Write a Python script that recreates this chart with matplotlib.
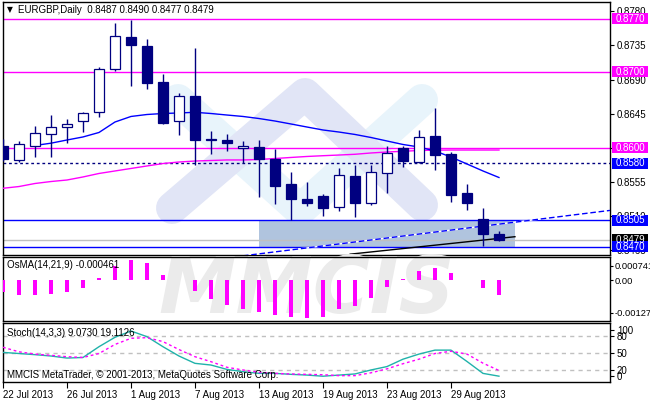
import matplotlib
matplotlib.use("Agg")
import matplotlib.pyplot as plt
import matplotlib.transforms as mtransforms
from matplotlib.patches import Rectangle
import numpy as np

plt.rcParams['font.family'] = ['Liberation Sans', 'DejaVu Sans']

# ---- data ----
dates = ["22 Jul 2013", "23 Jul 2013", "24 Jul 2013", "25 Jul 2013", "26 Jul 2013",
         "29 Jul 2013", "30 Jul 2013", "31 Jul 2013", "1 Aug 2013", "2 Aug 2013",
         "5 Aug 2013", "6 Aug 2013", "7 Aug 2013", "8 Aug 2013", "9 Aug 2013",
         "12 Aug 2013", "13 Aug 2013", "14 Aug 2013", "15 Aug 2013", "16 Aug 2013",
         "19 Aug 2013", "20 Aug 2013", "21 Aug 2013", "22 Aug 2013", "23 Aug 2013",
         "26 Aug 2013", "27 Aug 2013", "28 Aug 2013", "29 Aug 2013", "30 Aug 2013",
         "2 Sep 2013", "3 Sep 2013"]
opens = [0.8602, 0.8584, 0.8603, 0.8618, 0.8627, 0.8636, 0.8647, 0.8704, 0.8746, 0.8734,
         0.8687, 0.8635, 0.8668, 0.8612, 0.8610, 0.8600, 0.8601, 0.8585, 0.8552, 0.8533,
         0.8537, 0.8522, 0.8563, 0.8527, 0.8567, 0.8600, 0.8582, 0.8616, 0.8592, 0.8541,
         0.8506, 0.8487]
highs = [0.8612, 0.8609, 0.8629, 0.8643, 0.8638, 0.8647, 0.8706, 0.8765, 0.8769, 0.8744,
         0.8697, 0.8672, 0.8731, 0.8622, 0.8618, 0.8609, 0.8610, 0.8599, 0.8568, 0.8555,
         0.8539, 0.8574, 0.8577, 0.8577, 0.8603, 0.8602, 0.8624, 0.8653, 0.8594, 0.8552,
         0.8521, 0.8490]
lows = [0.8583, 0.8581, 0.8588, 0.8588, 0.8606, 0.8621, 0.8641, 0.8701, 0.8681, 0.8677,
        0.8631, 0.8617, 0.8578, 0.8592, 0.8596, 0.8580, 0.8535, 0.8526, 0.8505, 0.8523,
        0.8510, 0.8517, 0.8509, 0.8525, 0.8541, 0.8575, 0.8580, 0.8571, 0.8529, 0.8518,
        0.8471, 0.8477]
closes = [0.8585, 0.8605, 0.8619, 0.8628, 0.8631, 0.8646, 0.8704, 0.8747, 0.8735, 0.8685,
          0.8633, 0.8668, 0.8610, 0.8610, 0.8606, 0.8602, 0.8585, 0.8550, 0.8533, 0.8527,
          0.8521, 0.8564, 0.8528, 0.8568, 0.8593, 0.8583, 0.8614, 0.8590, 0.8538, 0.8527,
          0.8487, 0.8479]
ma_fast = [np.nan, np.nan, 0.86032, 0.86062, 0.86104, 0.86144, 0.86203, 0.86341, 0.86414,
           0.86440, 0.86453, 0.86460, 0.86469, 0.86453, 0.86433, 0.86414, 0.86387, 0.86354,
           0.86315, 0.86275, 0.86236, 0.86209, 0.86177, 0.86137, 0.86091, 0.86045, 0.86012,
           0.85959, 0.85880, 0.85788, 0.85696, 0.85610]
ma_slow = [0.85468, 0.85491, 0.85531, 0.85557, 0.85577, 0.85617, 0.85663, 0.85696, 0.85729,
           0.85762, 0.85794, 0.85814, 0.85827, 0.85834, 0.85841, 0.85841, 0.85847, 0.85860,
           0.85874, 0.85887, 0.85897, 0.85906, 0.85916, 0.85933, 0.85946, 0.85955, 0.85966,
           0.85970, 0.85972, 0.85972, 0.85972, 0.85972]
osma = [-0.000371, -0.000464, -0.000464, -0.000433, -0.000371, -0.000248, 0.000084, 0.000433,
        0.000619, 0.000526, 0.000155, 0.000022, -0.000340, -0.000588, -0.000774, -0.000897,
        -0.000990, -0.001083, -0.001145, -0.001176, -0.001160, -0.000897, -0.000804, -0.000557,
        -0.000217, 0.000031, 0.000278, 0.000371, 0.000217, 0.000022, -0.000248, -0.000461]
stoch_main = [51, 49, 47, 44.6, 41, 42, 61, 77.6, 88.7, 78.7, 61, 44.6, 31.7, 28.7, 21, 17,
              14, 14, 12.3, 11, 9, 11, 13, 20, 26, 39, 48, 55, 55, 35, 14, 9.073]
stoch_signal = [60, 52, 48, 45.8, 43.4, 42, 49, 65, 75.8, 77, 70, 56, 43.4, 34.6, 24.7, 20,
                15.8, 14, 12.9, 12.3, 11.6, 10, 10, 15, 22, 31, 39, 49, 53, 48, 32, 19.113]

magenta_levels = [0.8770, 0.8700, 0.8600]
blue_levels = [0.8580, 0.8505, 0.8470]
bid = 0.8479
zone_low, zone_high = 0.8470, 0.8505
zone_from, zone_to = 16, 32
trend_blue_x, trend_blue_y = [15.0, 38.0], [0.84578, 0.85178]
trend_black_x, trend_black_y = [21.7, 32.0], [0.8460, 0.8483]
price_ticks = [0.8780, 0.8735, 0.8690, 0.8645, 0.8600, 0.8555, 0.8510, 0.8465]

navy = '#000080'
magenta = '#ff00ff'
blue = '#0000ff'
fs = 7

W, H = 650, 400
fig = plt.figure(figsize=(W / 100, H / 100), dpi=100)


def box(x0, y0, x1, y1):
    return [x0 / W, 1 - y1 / H, (x1 - x0) / W, (y1 - y0) / H]


def pf(xs, ys):
    return np.array(xs) / W, 1 - np.array(ys) / H


ax = fig.add_axes(box(2.5, 2, 610, 255))
ax_os = fig.add_axes(box(2.5, 256.5, 610, 321))
ax_st = fig.add_axes(box(2.5, 323, 610, 382))

xs = np.arange(len(opens))
xlim = (-0.03, 37.94)
for a in (ax, ax_os, ax_st):
    a.set_xlim(*xlim)
    for s in a.spines.values():
        s.set_linewidth(1.0)
        s.set_color('black')
    a.yaxis.tick_right()
    a.tick_params(axis='y', length=3, width=0.8, pad=2, labelsize=fs)
    a.tick_params(axis='x', length=0)

ax.set_ylim(0.84589, 0.87922)

# watermark logo
wx, wy = pf([178, 300, 422], [100, 210, 100])
ax.plot(wx, wy, transform=fig.transFigure, color='#e8f4fb', lw=23,
        solid_capstyle='round', solid_joinstyle='round', zorder=0)
wx, wy = pf([172, 305, 422], [208, 94, 205])
ax.plot(wx, wy, transform=fig.transFigure, color='#e1e5f6', lw=23,
        solid_capstyle='round', solid_joinstyle='round', zorder=0.5)

# zone rectangle
ax.add_patch(Rectangle((zone_from, zone_low), zone_to - zone_from, zone_high - zone_low,
                       facecolor='#b0c4de', edgecolor='none', zorder=1))

for v in magenta_levels:
    ax.axhline(v, color=magenta, lw=1, zorder=2)
ax.axhline(blue_levels[0], color=navy, lw=1, ls=(0, (2, 2)), zorder=2)
for v in blue_levels[1:]:
    ax.axhline(v, color=blue, lw=1, zorder=2)
ax.axhline(bid, color='#c0c0c0', lw=1, zorder=2)

ax.plot(trend_blue_x, trend_blue_y, color='white', lw=1, zorder=3)
ax.plot(trend_blue_x, trend_blue_y, color=blue, lw=1, ls=(0, (4, 2)), zorder=3)
ax.plot(trend_black_x, trend_black_y, color='black', lw=1, zorder=3)

ax.plot(xs, ma_slow, color=magenta, lw=1, zorder=3)
ax.plot(xs, ma_fast, color=blue, lw=1, zorder=3)

o, h, l, c = map(np.array, (opens, highs, lows, closes))
up = c >= o
ax.vlines(xs, l, h, color=navy, lw=1, zorder=5)
ax.bar(xs, np.maximum(np.abs(c - o), 0.00004), bottom=np.minimum(o, c), width=0.65,
       color=np.where(up, 'white', navy), edgecolor=navy, lw=0.9, zorder=6)

ax.set_yticks(price_ticks)
ax.set_yticklabels([f"{t:.4f}" for t in price_ticks])
ax.set_xticks([])

# price label boxes on the right
bt = mtransforms.blended_transform_factory(ax.transAxes, ax.transData)
px = (0.87922 - 0.84589) / 253
boxes = [(v, magenta) for v in magenta_levels] + [(bid, 'black')] + \
        [(v, blue) for v in blue_levels]
for v, col in boxes:
    ax.add_patch(Rectangle((1.0033, v - 5.5 * px), 36 / 607.5, 11 * px, transform=bt,
                           facecolor=col, edgecolor='none', clip_on=False, zorder=10))
    ax.text(1.033, v, f"{v:.4f}", transform=bt, color='white', fontsize=fs,
            ha='center', va='center', clip_on=False, zorder=11)

# OsMA
ax_os.bar(xs, osma, width=0.2, color=magenta, zorder=3)
ax_os.set_ylim(-0.00127, 0.000741)
opx = 0.002011 / 64.5
ax_os.set_yticks([0.000741 - 9 * opx, 0, -0.00127 + 8 * opx])
ax_os.set_yticklabels(['0.000741', '0.00', '-0.00127'])
ax_os.tick_params(axis='y', length=2, pad=1, labelsize=6.7)
ax_os.set_xticks([])
ax_os.text(0.5, 0.47, 'MMCIS', transform=ax_os.transAxes, fontsize=56, fontweight='bold',
           style='italic', color='#ebebeb', ha='center', va='center', zorder=0,
           family='DejaVu Sans')

# Stochastic
ax_st.set_ylim(-1.2, 102.8)
for lv in (80, 50, 20):
    ax_st.axhline(lv, color='#c0c0c0', lw=1, ls=(0, (3, 3)), zorder=1)
ax_st.plot(xs, stoch_main, color='#20b2aa', lw=1, zorder=3)
ax_st.plot(xs, stoch_signal, color=magenta, lw=1, ls=(0, (2, 2)), zorder=3)
ax_st.set_yticks([90.5, 80, 50, 20, 9.5])
ax_st.set_yticklabels(['100', '80', '50', '20', '0'])
ax_st.set_xticks(xs[::4])
ax_st.set_xticklabels(dates[::4], ha='left', fontsize=fs)
ax_st.tick_params(axis='x', length=4, width=0.8, pad=1.5)

# panel captions
fx, fy = pf([7], [10])
fig.text(fx[0], fy[0], '\u25bc', fontsize=5.5, va='center', ha='left', family='DejaVu Sans')
fx, fy = pf([18], [10])
fig.text(fx[0], fy[0], 'EURGBP,Daily  0.8487 0.8490 0.8477 0.8479', fontsize=fs, va='center')
fx, fy = pf([7], [265])
fig.text(fx[0], fy[0], 'OsMA(14,21,9) -0.000461', fontsize=fs, va='center')
fx, fy = pf([7], [333])
fig.text(fx[0], fy[0], 'Stoch(14,3,3) 9.0730 19.1126', fontsize=fs, va='center')
fx, fy = pf([7], [375])
fig.text(fx[0], fy[0], 'MMCIS MetaTrader, \u00a9 2001-2013, MetaQuotes Software Corp.',
         fontsize=fs, va='center')

fig.savefig('out.png', dpi=100)
